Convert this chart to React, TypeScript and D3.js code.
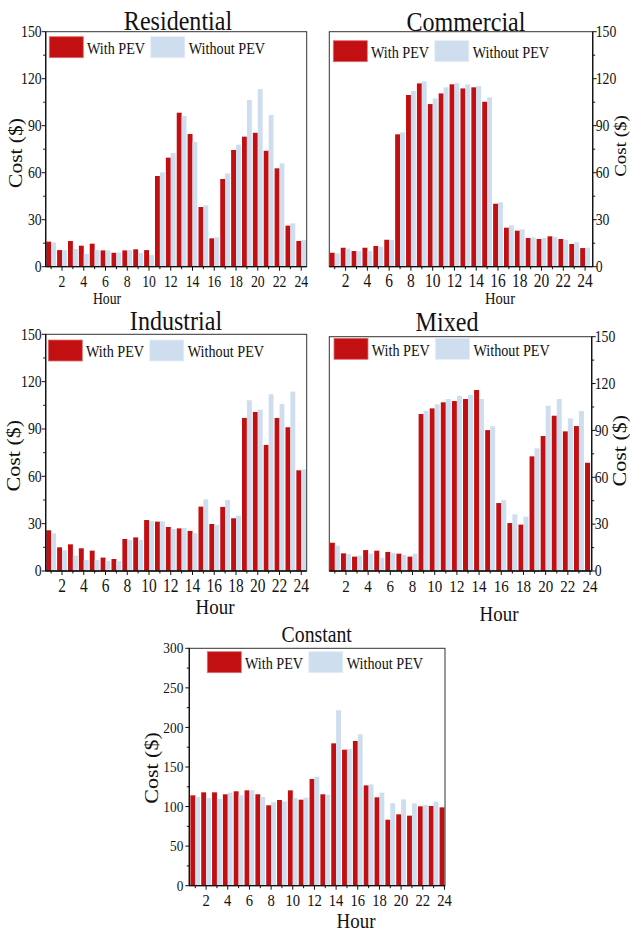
import React from "react";
import * as d3 from "d3";

// Hourly cost ($) for each load type, with and without plug-in electric vehicles
const hours = d3.range(1, 25);
const evenHourTicks = d3.range(2, 25, 2);
const costTicks150 = [0, 30, 60, 90, 120, 150];
const costTicks300 = [0, 50, 100, 150, 200, 250, 300];
const seriesNames = ["With PEV", "Without PEV"];

const residentialWith = [16, 10.6, 16.4, 13.4, 14.7, 10.4, 8.9, 10.4, 11.1, 10.6, 57.9, 69.6, 98.3, 84.7, 38.1, 18.1, 56, 74.5, 83, 85.5, 74, 62.8, 26.2, 16.4];
const residentialWithout = [15.5, 10.6, 11.3, 8.1, 10.6, 10.4, 9.1, 10.6, 8.7, 7.4, 60.2, 72.6, 96.2, 79.6, 39.1, 18.7, 59.6, 77.9, 106.4, 113.4, 96.8, 66, 27.7, 17];

const commercialWith = [8.9, 12.1, 10, 12.1, 13.2, 17.2, 84.5, 109.6, 117, 103.8, 110.6, 116.4, 113.8, 114.5, 105.3, 40.2, 24.9, 23, 18.3, 17.7, 19.4, 17.7, 14.5, 11.9];
const commercialWithout = [8.5, 11.5, 10, 10, 12.8, 17, 85.7, 112.1, 118.3, 107.4, 114.5, 117.2, 116.4, 115.3, 108.1, 41.1, 26.4, 23.8, 18.7, 18.3, 19.1, 17.2, 15.7, 12.1];

const industrialWith = [25.8, 15, 16.9, 14.4, 12.9, 8.5, 7.6, 20.3, 21.3, 32.3, 31.3, 27.9, 27, 25.4, 40.8, 29.8, 40.6, 33.4, 97, 100.8, 79.9, 97, 91.1, 63.8];
const industrialWithout = [23.9, 13.1, 9.7, 7, 7, 6.5, 6.3, 19.6, 19.6, 31.7, 31.5, 26.6, 27.3, 23.9, 45.4, 29.2, 45, 35.1, 108.2, 102.3, 112, 105.9, 113.7, 64.4];

const mixedWith = [18.1, 11.3, 9.2, 13.4, 13, 12.2, 11.1, 9.2, 100.5, 104.1, 108, 108.8, 110.1, 115.9, 90.2, 43.5, 30.7, 29.7, 73.4, 86.4, 99.4, 89.4, 92.8, 69.3];
const mixedWithout = [16.2, 10.9, 9.8, 11.1, 8.5, 11.5, 10.2, 11.1, 102.6, 106.7, 110.1, 112.2, 112.7, 110.1, 92.6, 45.4, 36.3, 34.8, 78.5, 105.8, 110.1, 97.7, 102.4];

const constantWith = [114.2, 118, 118, 115.5, 119.3, 120.5, 115.5, 101.6, 108.3, 120.5, 108.7, 134.9, 115.5, 179.9, 171.9, 182.9, 126.8, 111.7, 83.4, 90.2, 88.5, 100.3, 100.7, 99];
const constantWithout = [112.1, 110.8, 109.6, 117.6, 114.2, 120.5, 112.1, 105.4, 106.6, 110.8, 111.3, 137.8, 115, 221.7, 172.8, 191.3, 128.1, 117.6, 104.1, 109.1, 104.1, 102, 106.2];

const RED = "#c20f12";
const BLUE = "#cedeee";
const FONT = "'Liberation Serif', 'Times New Roman', serif";
const SQUEEZE = 0.86;

type Txt = {
  x: number;
  y: number;
  size: number;
  anchor?: "start" | "middle" | "end";
  vertical?: boolean;
  children: React.ReactNode;
};

function Label({ x, y, size, anchor = "middle", vertical = false, children }: Txt) {
  const t = vertical
    ? `translate(${x},${y}) rotate(-90) scale(1,${SQUEEZE})`
    : `translate(${x},${y}) scale(${SQUEEZE},1)`;
  return (
    <text transform={t} fontSize={size} textAnchor={anchor} fontFamily={FONT} fill="#111">
      {children}
    </text>
  );
}

type PanelProps = {
  id: string;
  title: string;
  titleX: number;
  titleY: number;
  titleSize: number;
  left: number;
  right: number;
  top: number;
  bottom: number;
  xDomain: [number, number];
  yMax: number;
  yTicks: number[];
  withPev: number[];
  withoutPev: number[];
  axisRight?: boolean;
  yTickSize: number;
  yTickGap: number;
  xTickSize: number;
  xTickBaseline: number;
  yLabelX: number;
  yLabelY: number;
  yLabelSize: number;
  hourX: number;
  hourY: number;
  hourSize: number;
  legendX: number;
  legendY: number;
};

function Panel(p: PanelProps) {
  const x = d3.scaleLinear().domain(p.xDomain).range([p.left, p.right]);
  const y = d3.scaleLinear().domain([0, p.yMax]).range([p.bottom, p.top]);
  const step = x(2) - x(1);
  const bw = step * 0.45;
  const axisX = p.axisRight ? p.right : p.left;
  const dir = p.axisRight ? 1 : -1;
  const minorTicks = p.yTicks.slice(0, -1).map((t, i) => (t + p.yTicks[i + 1]) / 2);

  return (
    <g>
      <defs>
        <clipPath id={`clip-${p.id}`}>
          <rect x={p.left} y={p.top} width={p.right - p.left} height={p.bottom - p.top} />
        </clipPath>
      </defs>
      <g clipPath={`url(#clip-${p.id})`}>
        {p.withPev.map((v, i) => (
          <rect key={`w${i}`} x={x(hours[i]) - bw} y={y(v)} width={bw} height={y(0) - y(v)} fill={RED} />
        ))}
        {p.withoutPev.map((v, i) => (
          <rect key={`o${i}`} x={x(hours[i])} y={y(v)} width={bw} height={y(0) - y(v)} fill={BLUE} />
        ))}
      </g>

      {/* frame */}
      <rect x={p.left} y={p.top} width={p.right - p.left} height={p.bottom - p.top} fill="none" stroke="#333" strokeWidth={1} />
      <line x1={p.left} x2={p.right} y1={p.bottom} y2={p.bottom} stroke="#111" strokeWidth={1.3} />
      <line x1={axisX} x2={axisX} y1={p.top} y2={p.bottom} stroke="#111" strokeWidth={1.3} />

      {/* x ticks */}
      {hours.map((h) =>
        x(h) <= p.right ? (
          <line key={`xt${h}`} x1={x(h)} x2={x(h)} y1={p.bottom} y2={p.bottom + (h % 2 === 0 ? 4 : 2.5)} stroke="#111" strokeWidth={1} />
        ) : null
      )}
      {evenHourTicks.map((h) => (
        <Label key={`xl${h}`} x={x(h)} y={p.xTickBaseline} size={p.xTickSize}>
          {h}
        </Label>
      ))}

      {/* y ticks */}
      {p.yTicks.map((t) => (
        <g key={`yt${t}`}>
          <line x1={axisX} x2={axisX + dir * 4} y1={y(t)} y2={y(t)} stroke="#111" strokeWidth={1} />
          <Label
            x={axisX + dir * p.yTickGap}
            y={y(t) + p.yTickSize * 0.33}
            size={p.yTickSize}
            anchor={p.axisRight ? "start" : "end"}
          >
            {t}
          </Label>
        </g>
      ))}
      {minorTicks.map((t) => (
        <line key={`ym${t}`} x1={axisX} x2={axisX + dir * 2.5} y1={y(t)} y2={y(t)} stroke="#111" strokeWidth={1} />
      ))}

      {/* titles and axis labels */}
      <Label x={p.titleX} y={p.titleY} size={p.titleSize}>
        {p.title}
      </Label>
      <Label x={p.yLabelX} y={p.yLabelY} size={p.yLabelSize} vertical>
        Cost ($)
      </Label>
      <Label x={p.hourX} y={p.hourY} size={p.hourSize}>
        Hour
      </Label>

      {/* legend */}
      <g>
        <rect x={p.legendX} y={p.legendY} width={34} height={21} fill={RED} stroke="#e07070" strokeWidth={0.8} />
        <Label x={p.legendX + 37.7} y={p.legendY + 17.3} size={16.5} anchor="start">
          {seriesNames[0]}
        </Label>
        <rect x={p.legendX + 101.5} y={p.legendY} width={34} height={21} fill={BLUE} stroke="#e4edf7" strokeWidth={0.8} />
        <Label x={p.legendX + 139.5} y={p.legendY + 17.3} size={16.5} anchor="start">
          {seriesNames[1]}
        </Label>
      </g>
    </g>
  );
}

export default function App() {
  return (
    <svg
      width={630}
      height={931}
      viewBox="0 0 630 931"
      style={{ position: "absolute", left: 0, top: 0, background: "#fff" }}
    >
      <rect width={630} height={931} fill="#fff" />
      <Panel
        id="res"
        title="Residential"
        titleX={178}
        titleY={29.5}
        titleSize={28}
        left={45.7}
        right={306.7}
        top={31.7}
        bottom={266.7}
        xDomain={[0.5, 24.5]}
        yMax={150}
        yTicks={costTicks150}
        withPev={residentialWith}
        withoutPev={residentialWithout}
        yTickSize={16}
        yTickGap={4}
        xTickSize={16}
        xTickBaseline={287}
        yLabelX={21.5}
        yLabelY={153}
        yLabelSize={21.5}
        hourX={107}
        hourY={303.5}
        hourSize={16}
        legendX={49.3}
        legendY={36.7}
      />
      <Panel
        id="com"
        title="Commercial"
        titleX={466}
        titleY={30.7}
        titleSize={28}
        left={329.3}
        right={592.7}
        top={31.7}
        bottom={266.7}
        xDomain={[0.5, 24.7]}
        yMax={150}
        yTicks={costTicks150}
        withPev={commercialWith}
        withoutPev={commercialWithout}
        axisRight
        yTickSize={16}
        yTickGap={3}
        xTickSize={18}
        xTickBaseline={286.5}
        yLabelX={626}
        yLabelY={146}
        yLabelSize={19}
        hourX={500}
        hourY={304}
        hourSize={17}
        legendX={333.3}
        legendY={40.7}
      />
      <Panel
        id="ind"
        title="Industrial"
        titleX={176}
        titleY={330}
        titleSize={28}
        left={45.7}
        right={306.7}
        top={334.3}
        bottom={571}
        xDomain={[0.5, 24.5]}
        yMax={150}
        yTicks={costTicks150}
        withPev={industrialWith}
        withoutPev={industrialWithout}
        yTickSize={16}
        yTickGap={4}
        xTickSize={18}
        xTickBaseline={591.8}
        yLabelX={19.5}
        yLabelY={455.7}
        yLabelSize={22}
        hourX={215}
        hourY={614}
        hourSize={22}
        legendX={48.3}
        legendY={340}
      />
      <Panel
        id="mix"
        title="Mixed"
        titleX={447}
        titleY={331}
        titleSize={28}
        left={329.3}
        right={591.7}
        top={336.7}
        bottom={571}
        xDomain={[0.5, 24.15]}
        yMax={150}
        yTicks={costTicks150}
        withPev={mixedWith}
        withoutPev={mixedWithout}
        axisRight
        yTickSize={16}
        yTickGap={3}
        xTickSize={17.5}
        xTickBaseline={592}
        yLabelX={626.3}
        yLabelY={450.7}
        yLabelSize={22}
        hourX={499}
        hourY={621}
        hourSize={22}
        legendX={334}
        legendY={338.3}
      />
      <Panel
        id="con"
        title="Constant"
        titleX={316.7}
        titleY={641.7}
        titleSize={23}
        left={189.3}
        right={445}
        top={648.3}
        bottom={885.7}
        xDomain={[0.45, 24.05]}
        yMax={300}
        yTicks={costTicks300}
        withPev={constantWith}
        withoutPev={constantWithout}
        yTickSize={15.5}
        yTickGap={6}
        xTickSize={17}
        xTickBaseline={905.7}
        yLabelX={158}
        yLabelY={768}
        yLabelSize={22}
        hourX={356}
        hourY={928}
        hourSize={22}
        legendX={207.3}
        legendY={651.7}
      />
    </svg>
  );
}
